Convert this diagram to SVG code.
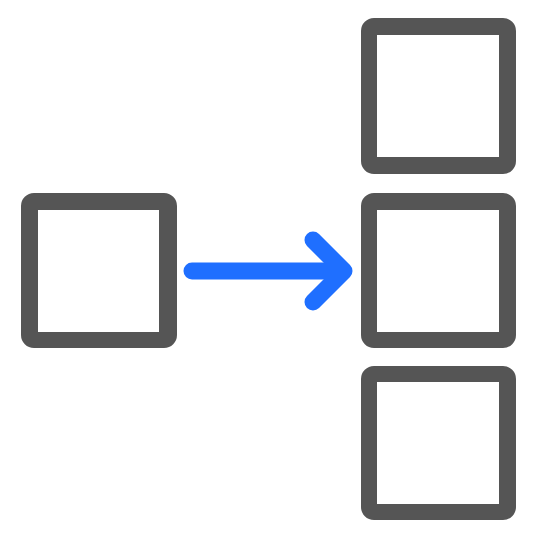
<svg xmlns="http://www.w3.org/2000/svg" width="535" height="535" viewBox="0 0 535 535">
<style>
.box{fill:#555555;fill-rule:evenodd}
.arrow{fill:none;stroke:#1F6FFF;stroke-width:17;stroke-linecap:round;stroke-linejoin:round}
</style>
<rect width="535" height="535" fill="#ffffff"/>
<g id="source">
<path class="box" d="M34,193 H164 A13,13 0 0 1 177,206 V335 A13,13 0 0 1 164,348 H34 A13,13 0 0 1 21,335 V206 A13,13 0 0 1 34,193 Z M38,210 V332 H159 V210 Z"/>
</g>
<g id="target-top">
<path class="box" d="M374,18 H503 A13,13 0 0 1 516,31 V161 A13,13 0 0 1 503,174 H374 A13,13 0 0 1 361,161 V31 A13,13 0 0 1 374,18 Z M377,35 V157 H499 V35 Z"/>
</g>
<g id="target-middle">
<path class="box" d="M374,193 H503 A13,13 0 0 1 516,206 V335 A13,13 0 0 1 503,348 H374 A13,13 0 0 1 361,335 V206 A13,13 0 0 1 374,193 Z M377,210 V332 H499 V210 Z"/>
</g>
<g id="target-bottom">
<path class="box" d="M374,366 H503 A13,13 0 0 1 516,379 V507 A13,13 0 0 1 503,520 H374 A13,13 0 0 1 361,507 V379 A13,13 0 0 1 374,366 Z M377,382 V504 H499 V382 Z"/>
</g>
<g id="connectors">
<path class="arrow" d="M192,271 H343"/>
<path class="arrow" d="M313,240 L344,271 L313,302"/>
</g>
</svg>
